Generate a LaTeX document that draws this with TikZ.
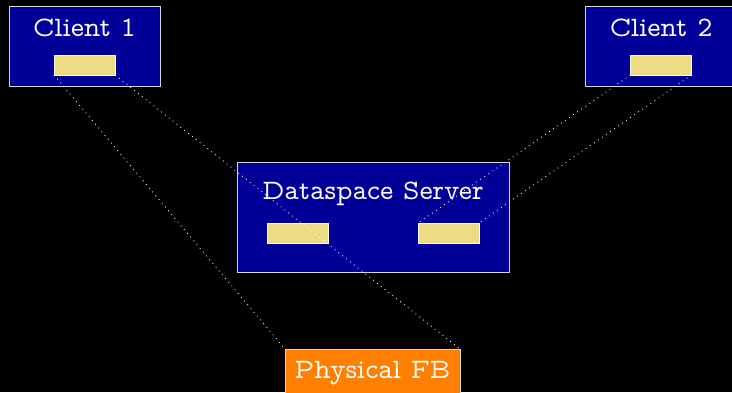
\documentclass[tikz,border=0pt]{standalone}
\usepackage{fontspec}
\newfontfamily\vtt{lmmonoprop10-regular.otf}
\usepackage{tikz}

\definecolor{boxblue}{RGB}{0,0,153}
\definecolor{baryellow}{RGB}{238,220,130}
\definecolor{fborange}{RGB}{255,128,0}
\definecolor{edgegray}{RGB}{215,215,215}

\begin{document}
\begin{tikzpicture}[
	box/.style={rectangle, draw=edgegray, line width=0.7pt, fill=boxblue, inner sep=0pt, outer sep=0pt},
	bar/.style={rectangle, draw=white!85!baryellow, line width=0.6pt, fill=baryellow, inner sep=0pt, outer sep=0pt, minimum width=1.525cm, minimum height=0.5cm},
	title/.style={anchor=base, text=white, inner sep=0pt, font=\vtt\fontsize{20}{24}\selectfont},
	wire/.style={white, line width=0.6pt, dash pattern=on 0.6pt off 2.9pt}
	]
	\fill[black] (0,0) rectangle (18.3,-9.8);
	\useasboundingbox (0,0) rectangle (18.3,-9.8);
	
	%boxes
	\node[box, minimum width=3.775cm, minimum height=2cm] (client1) at (2.1125,-1.15) {};
	\node[box, minimum width=3.775cm, minimum height=2cm] (client2) at (16.5125,-1.15) {};
	\node[box, minimum width=6.8cm, minimum height=2.75cm] (server) at (9.325,-5.425) {};
	\node[box, fill=fborange, minimum width=4.375cm, minimum height=1.275cm] (fb) at (9.3125,-9.3625) {};
	
	%bars
	\node[bar] (cbar1) at (2.1125,-1.625) {};
	\node[bar] (cbar2) at (16.525,-1.625) {};
	\node[bar] (sbarL) at (7.4375,-5.825) {};
	\node[bar] (sbarR) at (11.2125,-5.825) {};
	
	%labels
	\node[title] (client1txt) at (2.1125,-0.9) {Client 1};
	\node[title] (client2txt) at (16.525,-0.9) {Client 2};
	\node[title] (servertxt) at (9.325,-4.975) {Dataspace Server};
	\node[title] (fbtxt) at (9.3125,-9.45) {Physical FB};
	
	%dotted wires
	\draw[wire] (cbar1.south west)--(fb.north west);
	\draw[wire] (cbar1.south east)--(fb.north east);
	\draw[wire] (cbar2.south west)--(sbarR.north west);
	\draw[wire] (cbar2.south east)--(sbarR.north east);
\end{tikzpicture}
\end{document}
